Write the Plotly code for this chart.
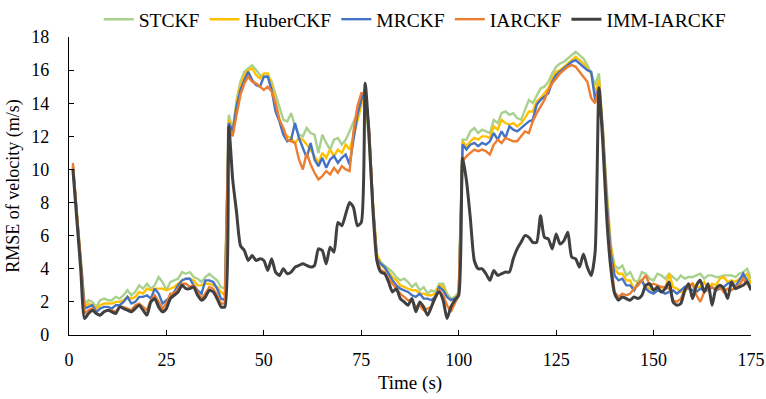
import plotly.graph_objects as go

time_s = list(range(1, 176))

stckf = [
    10.2, 7.4, 4.6, 1.9, 2.1, 2.0, 1.7, 2.1, 2.2, 2.1,
    2.1, 2.3, 2.2, 2.4, 2.7, 2.4, 2.6, 3.0, 2.8, 3.1,
    2.8, 3.0, 3.5, 3.2, 2.7, 3.2, 3.3, 3.4, 3.8, 3.7,
    3.8, 3.5, 3.4, 3.2, 3.5, 3.7, 3.5, 3.3, 2.9, 2.8,
    13.3, 12.4, 14.2, 15.3, 15.9, 16.1, 16.3, 16.0, 15.7, 15.6,
    15.7, 15.3, 14.5, 13.7, 13.0, 12.9, 13.4, 12.6, 12.1, 12.0,
    12.5, 12.2, 12.1, 11.0, 12.1, 11.6, 11.2, 11.8, 11.9, 11.5,
    11.8, 12.3, 12.9, 13.5, 14.0, 14.8, 11.5, 7.5, 4.8, 4.4,
    4.2, 4.0, 3.8, 3.5, 3.3, 3.4, 3.2, 2.9, 3.1, 2.7,
    2.9, 2.5, 2.7, 2.6, 3.1, 3.1, 2.5, 2.2, 2.3, 2.6,
    11.8, 11.8, 12.3, 12.5, 12.2, 12.4, 12.3, 12.2, 13.0, 12.8,
    13.4, 13.5, 13.3, 13.4, 13.1, 13.0, 13.6, 14.2, 14.0, 14.5,
    14.9, 15.0, 15.3, 15.8, 16.2, 16.4, 16.5, 16.7, 16.9, 17.1,
    16.9, 16.7, 16.3, 15.8, 15.1, 15.8, 12.0, 8.5, 5.5, 4.2,
    4.0, 4.2, 3.6, 3.8, 3.3, 3.2, 3.8, 3.7, 3.4, 3.3,
    3.7, 3.6, 3.4, 3.7, 3.5, 3.3, 3.6, 3.4, 3.5, 3.5,
    3.6, 3.7, 3.4, 3.6, 3.6, 3.5, 3.5, 3.6, 3.6, 3.6,
    3.5, 3.7, 3.8, 4.0, 3.4,
]

huber = [
    10.2, 7.3, 4.5, 1.7, 1.9, 1.8, 1.6, 1.8, 1.9, 1.9,
    1.9, 2.0, 2.0, 2.1, 2.3, 2.2, 2.3, 2.6, 2.5, 2.8,
    2.7, 2.8, 2.8, 2.8, 2.7, 2.8, 2.9, 3.1, 3.3, 3.4,
    3.4, 3.3, 3.0, 3.0, 3.1, 3.1, 3.0, 2.9, 2.6, 2.4,
    13.0, 12.2, 14.0, 15.1, 15.7, 16.0, 16.1, 15.7, 15.5, 15.8,
    15.8, 15.1, 14.0, 13.0, 12.3, 12.0, 11.9, 11.6, 11.9, 11.8,
    11.5, 11.2, 10.8, 10.4, 11.0, 10.7, 11.2, 10.8, 11.2, 11.0,
    11.5, 11.2, 12.0, 13.0, 14.0, 14.8, 12.0, 8.0, 4.9, 4.3,
    4.0, 3.8, 3.5, 3.3, 3.0, 2.9, 2.8, 2.7, 2.7, 2.5,
    2.5, 2.4, 2.4, 2.5, 3.0, 2.9, 2.3, 2.1, 2.2, 2.5,
    11.7, 11.4, 11.7, 11.9, 11.8, 12.0, 12.0, 11.9, 12.6, 12.4,
    13.0, 12.8, 12.7, 12.8, 12.6, 12.8, 13.1, 13.5, 13.5, 14.1,
    14.3, 14.6, 14.9, 15.5, 15.9, 16.0, 16.2, 16.4, 16.6, 16.8,
    16.6, 16.4, 16.1, 15.8, 14.6, 15.4, 12.5, 8.3, 5.3, 4.0,
    3.7, 3.7, 3.3, 3.3, 2.7, 3.2, 3.3, 2.9, 2.8, 2.7,
    2.9, 2.9, 2.8, 3.7, 2.9, 2.8, 2.6, 2.6, 3.0, 3.1,
    2.9, 2.9, 3.2, 2.8, 3.1, 3.0, 3.4, 3.5, 3.2, 3.3,
    3.2, 3.4, 3.5, 3.7, 3.1,
]

mrckf = [
    10.2, 7.2, 4.4, 1.6, 1.7, 1.8, 1.4, 1.6, 1.7, 1.7,
    1.6, 1.8, 1.8, 2.0, 2.3, 1.9, 2.0, 2.3, 2.3, 2.4,
    2.2, 2.8, 2.5, 1.9, 2.1, 2.3, 2.6, 3.0, 3.3, 3.4,
    3.4, 3.0, 2.7, 2.5, 3.3, 3.3, 3.2, 2.8, 2.2, 2.1,
    12.8, 12.3, 13.8, 14.8, 15.4, 15.9, 15.4, 15.1, 15.0, 15.6,
    15.6, 14.8, 13.5, 12.9, 12.1, 11.7, 11.8, 12.8, 11.9, 11.3,
    10.7, 11.6, 10.6, 10.2, 10.7, 10.1, 10.6, 10.8, 10.4, 10.7,
    10.9, 10.3, 11.9, 13.3, 14.2, 14.9, 12.3, 7.8, 4.6, 4.3,
    4.1, 3.7, 3.3, 3.0, 2.8, 2.7, 2.6, 2.4, 2.3, 2.5,
    2.2, 2.2, 2.1, 2.3, 2.9, 2.7, 2.3, 2.1, 2.2, 2.4,
    11.5, 11.2, 11.5, 11.6, 11.4, 11.6, 11.5, 11.7, 12.2, 11.8,
    12.3, 11.9, 12.6, 12.4, 12.3, 12.5, 12.7, 12.9, 13.0, 13.9,
    14.2, 14.4, 14.6, 15.3, 15.7, 15.9, 16.1, 16.3, 16.5, 16.6,
    16.4, 16.2, 16.0, 15.9, 14.2, 15.0, 12.3, 8.0, 5.0, 3.6,
    3.3, 3.4, 3.0, 3.0, 2.7, 3.1, 3.3, 2.8, 2.6, 2.5,
    2.7, 2.6, 2.5, 2.6, 2.7, 2.5, 2.7, 2.9, 2.8, 2.7,
    2.6, 2.8, 2.7, 2.7, 2.9, 2.7, 2.8, 2.9, 3.1, 3.2,
    2.9, 3.3, 3.7, 3.3, 2.8,
]

iarckf = [
    10.4, 7.3, 4.3, 1.3, 1.5, 1.6, 1.3, 1.2, 1.4, 1.5,
    1.5, 1.4, 1.7, 1.7, 1.6, 1.5, 1.8, 1.9, 1.7, 1.5,
    2.1, 2.4, 2.0, 1.6, 1.9, 2.5, 2.5, 2.8, 3.1, 3.1,
    2.9, 3.0, 2.6, 2.2, 2.5, 2.9, 2.8, 2.4, 1.9, 1.9,
    12.5, 12.0, 13.3, 14.5, 15.2, 15.6, 15.3, 15.2, 15.0, 14.8,
    15.0, 14.7, 14.0, 13.0, 12.5, 11.8, 11.7, 11.6, 10.6, 10.0,
    11.0, 10.3, 9.8, 9.4, 9.6, 9.9, 9.7, 10.1, 9.8, 10.2,
    10.0, 9.9, 12.3, 13.8, 14.6, 14.6, 12.5, 7.8, 4.5, 3.9,
    3.8, 3.4, 3.1, 2.8, 2.5, 2.3, 2.1, 2.1, 1.7, 1.8,
    1.5, 1.6, 1.7, 2.2, 2.7, 2.4, 1.8, 1.4, 1.9, 2.4,
    10.5, 10.8, 11.0, 11.2, 11.1, 11.2, 11.1, 10.9, 11.5, 11.8,
    11.6, 11.9, 11.8, 11.7, 11.7, 12.0, 12.3, 12.2, 12.9, 13.4,
    13.8, 14.2, 14.8, 15.2, 15.5, 15.8, 16.0, 16.2, 16.3, 16.2,
    15.9, 15.6, 15.3, 14.3, 14.0, 14.9, 12.0, 7.5, 4.5, 2.6,
    2.3, 2.5, 2.4, 2.5, 2.8, 3.0, 3.3, 3.6, 3.0, 3.1,
    3.0, 2.9, 2.9, 2.8, 2.1, 2.0, 2.2, 2.7, 2.9, 3.1,
    2.4, 2.0, 2.6, 2.8, 2.9, 2.7, 2.9, 2.6, 2.8, 2.7,
    2.9, 3.0, 3.4, 3.1, 2.8,
]

imm_iarckf = [
    10.0, 7.0, 4.0, 1.0, 1.3, 1.5, 1.3, 1.2, 1.4, 1.5,
    1.4, 1.3, 1.7, 1.6, 1.5, 1.4, 1.6, 1.8, 1.5, 1.2,
    2.0, 2.2, 1.7, 1.4, 1.6, 2.2, 2.4, 2.6, 3.0, 2.8,
    2.8, 2.9, 2.4, 2.1, 2.3, 2.7, 2.6, 2.2, 1.7, 1.7,
    12.6, 9.4, 7.4, 5.4, 5.1, 4.5, 4.8, 4.5, 4.6, 4.5,
    3.9, 4.6, 3.8, 3.6, 4.0, 3.7, 3.8, 4.1, 4.2, 4.3,
    4.2, 4.1, 4.2, 5.2, 5.1, 4.3, 5.3, 5.0, 6.8, 6.6,
    7.3, 8.0, 7.7, 6.6, 6.8, 15.2, 12.0, 7.5, 4.5, 3.8,
    3.7, 3.2, 2.6, 2.8, 2.2, 2.0, 1.8, 2.2, 1.4, 2.0,
    1.7, 1.2, 1.7, 2.3, 2.6, 2.1, 1.0, 1.7, 2.1, 2.4,
    10.7, 9.3, 7.0, 4.5, 4.0, 4.0, 3.7, 3.3, 3.9, 3.6,
    3.7, 3.8, 3.8, 4.6, 5.2, 5.6, 6.0, 5.9, 5.6, 5.6,
    7.2, 5.9, 5.8, 5.2, 6.1, 5.5, 5.7, 6.2, 4.7, 4.6,
    4.1, 4.9, 4.1, 3.6, 5.0, 14.9, 11.5, 7.0, 4.1, 2.5,
    2.1, 2.3, 2.2, 2.1, 2.3, 2.2, 2.4, 3.0, 3.1, 2.7,
    2.9, 2.6, 2.8, 3.2, 2.0, 1.8, 1.9, 2.7, 3.1, 2.2,
    3.0, 3.3, 2.6, 3.1, 1.8, 2.8, 3.0, 2.8, 2.2, 3.2,
    2.8, 2.9, 3.0, 3.2, 2.7,
]

series_names = ["STCKF", "HuberCKF", "MRCKF", "IARCKF", "IMM-IARCKF"]
series_values = [stckf, huber, mrckf, iarckf, imm_iarckf]
series_colors = ["#A9D18E", "#FFC000", "#4472C4", "#ED7D31", "#404040"]
series_widths = [2.4, 2.4, 2.4, 2.4, 3.0]
series_shapes = ["linear", "linear", "linear", "linear", "spline"]

x_ticks = [0, 25, 50, 75, 100, 125, 150, 175]
y_ticks = [0, 2, 4, 6, 8, 10, 12, 14, 16, 18]

FONT = "Liberation Serif, Times New Roman, serif"

fig = go.Figure()
for name, vals, col, w, shp in zip(series_names, series_values, series_colors,
                                  series_widths, series_shapes):
    fig.add_trace(go.Scatter(
        x=time_s, y=vals, name=name, mode="lines",
        line=dict(color=col, width=w, shape=shp, smoothing=0.6),
    ))

fig.update_layout(
    width=766, height=399,
    margin=dict(l=69, r=15, t=37, b=64, autoexpand=False),
    paper_bgcolor="white", plot_bgcolor="white",
    font=dict(family=FONT, size=18, color="black"),
    showlegend=True,
    legend=dict(
        orientation="h", xref="container", x=0.542, xanchor="center",
        yref="container", y=1.0, yanchor="top",
        font=dict(family=FONT, size=19.5, color="black"),
        itemwidth=30, tracegroupgap=0,
    ),
    xaxis=dict(
        range=[0, 175], tickvals=x_ticks, ticks="inside", ticklen=5,
        tickwidth=1.2, tickcolor="black", showline=True, linecolor="black",
        linewidth=1.3, showgrid=False, zeroline=False,
        title=dict(text="Time (s)", font=dict(family=FONT, size=19), standoff=6),
        tickfont=dict(family=FONT, size=18), ticklabelstandoff=8,
    ),
    yaxis=dict(
        range=[0, 18], tickvals=y_ticks, ticks="inside", ticklen=5,
        tickwidth=1.2, tickcolor="black", showline=True, linecolor="black",
        linewidth=1.3, showgrid=False, zeroline=False,
        title=dict(text="RMSE of velocity (m/s)", font=dict(family=FONT, size=18), standoff=6),
        tickfont=dict(family=FONT, size=18), ticklabelstandoff=15,
    ),
)

fig.write_html("out.html")
